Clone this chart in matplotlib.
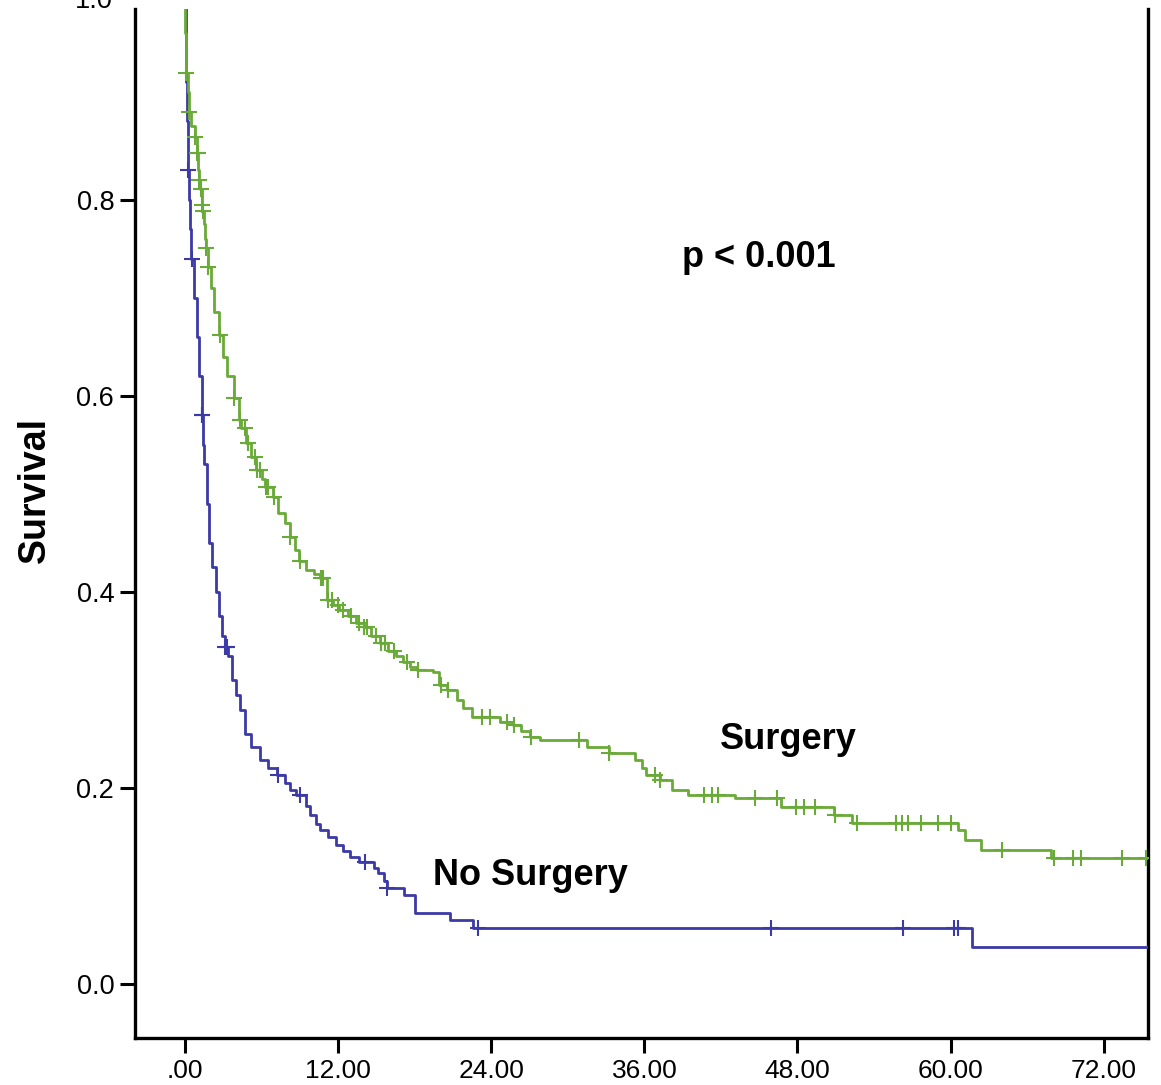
import numpy as np
import matplotlib
matplotlib.use("Agg")
import matplotlib.pyplot as plt

plt.rcParams['font.family'] = ['Liberation Sans', 'DejaVu Sans']

# ---- data ----
# No Surgery: event times (months) and survival after each step
ns_time = [0.0, 0.05, 0.1, 0.15, 0.2, 0.3, 0.4, 0.5, 0.7, 0.9, 1.1, 1.3, 1.4, 1.5, 1.7,
           1.9, 2.1, 2.4, 2.7, 2.9, 3.1, 3.4, 3.7, 4.0, 4.3, 4.7, 5.2, 5.9, 6.5, 7.2,
           7.8, 8.2, 8.7, 9.5, 9.8, 10.3, 10.6, 11.2, 11.8, 12.4, 12.9, 13.6, 14.8,
           15.1, 15.6, 15.8, 17.2, 18.0, 20.8, 22.6, 61.7]
ns_surv = [1.0, 0.96, 0.92, 0.88, 0.83, 0.80, 0.77, 0.74, 0.70, 0.66, 0.62, 0.58, 0.55,
           0.53, 0.49, 0.45, 0.425, 0.40, 0.375, 0.355, 0.344, 0.335, 0.31, 0.295, 0.28,
           0.255, 0.242, 0.229, 0.22, 0.213, 0.205, 0.198, 0.193, 0.182, 0.172, 0.163,
           0.157, 0.150, 0.142, 0.136, 0.130, 0.124, 0.118, 0.113, 0.105, 0.098, 0.091,
           0.073, 0.065, 0.057, 0.038]
ns_censor = [0.22, 0.55, 1.32, 1.36, 3.15, 3.3, 7.3, 9.0, 14.1, 15.85, 23.0, 45.9,
             56.3, 60.3, 60.6]

# Surgery
s_time = [0.0, 0.02, 0.05, 0.08, 0.2, 0.3, 0.5, 0.8, 0.95, 1.05, 1.1, 1.2, 1.3, 1.35,
          1.45, 1.6, 1.65, 1.8, 2.0, 2.3, 2.7, 3.0, 3.3, 3.8, 4.2, 4.4, 4.8, 5.2, 5.6,
          6.0, 6.3, 6.9, 7.3, 7.8, 8.2, 8.6, 8.9, 9.5, 10.1, 10.6, 11.1, 11.6, 12.1,
          12.8, 13.4, 14.0, 14.6, 15.3, 15.9, 16.5, 17.1, 17.6, 18.2, 19.4, 19.9, 20.5,
          21.3, 21.8, 22.5, 24.7, 25.7, 26.3, 27.0, 27.8, 31.5, 33.2, 35.3, 35.8, 36.1,
          37.2, 38.2, 39.4, 43.1, 46.7, 50.9, 52.3, 60.6, 61.1, 62.4, 67.9]
s_surv = [1.0, 0.97, 0.94, 0.929, 0.91, 0.889, 0.875, 0.864, 0.848, 0.83, 0.82, 0.811,
          0.795, 0.788, 0.775, 0.76, 0.751, 0.731, 0.71, 0.685, 0.662, 0.64, 0.62, 0.598,
          0.575, 0.567, 0.552, 0.538, 0.524, 0.515, 0.507, 0.497, 0.48, 0.47, 0.456,
          0.443, 0.431, 0.422, 0.418, 0.414, 0.392, 0.387, 0.382, 0.375, 0.368, 0.364,
          0.355, 0.348, 0.34, 0.335, 0.328, 0.323, 0.320, 0.318, 0.305, 0.300, 0.290,
          0.282, 0.272, 0.267, 0.264, 0.258, 0.252, 0.249, 0.242, 0.236, 0.229, 0.22,
          0.213, 0.208, 0.198, 0.193, 0.190, 0.181, 0.172, 0.164, 0.157, 0.147, 0.137,
          0.129]
s_censor = [0.1, 0.32, 0.82, 0.97, 1.02, 1.12, 1.22, 1.33, 1.38, 1.66, 1.82, 2.75, 3.85,
            4.3, 4.7, 4.9, 5.5, 5.65, 5.9, 6.35, 6.5, 7.0, 8.25, 9.0, 10.65, 10.8, 11.2,
            11.5, 12.0, 12.4, 13.0, 13.6, 14.05, 14.3, 15.0, 15.35, 15.7, 16.4, 17.4,
            18.25, 20.1, 20.6, 23.3, 23.9, 25.2, 25.8, 27.1, 30.9, 33.25, 36.8, 37.25,
            40.7, 41.3, 41.8, 44.7, 46.4, 47.9, 48.5, 49.4, 50.95, 52.7, 55.7, 56.2,
            56.7, 57.7, 59.0, 60.0, 64.0, 68.1, 69.6, 70.2, 73.4, 75.3]

x_ticks = [0, 12, 24, 36, 48, 60, 72]
x_ticklabels = ['.00', '12.00', '24.00', '36.00', '48.00', '60.00', '72.00']
y_ticks = [0.0, 0.2, 0.4, 0.6, 0.8]
y_ticklabels = ['0.0', '0.2', '0.4', '0.6', '0.8']

END_T = 75.5
BLUE = '#3b3aa6'
GREEN = '#6aaa38'

W, H = 1161, 1085
fig = plt.figure(figsize=(W / 100, H / 100), dpi=100)
ax = fig.add_axes([135 / W, 1 - 1038 / H, (1148 - 135) / W, (1038 - 9) / H])


def step_at(times, surv, t):
    idx = np.searchsorted(times, t, side='right') - 1
    return np.asarray(surv)[idx]


for times, surv, cens, col in [(ns_time, ns_surv, ns_censor, BLUE),
                               (s_time, s_surv, s_censor, GREEN)]:
    tt = list(times) + [END_T]
    ss = list(surv) + [surv[-1]]
    ax.step(tt, ss, where='post', color=col, lw=2.0, zorder=3)
    cy = step_at(times, surv, cens)
    ax.plot(cens, cy, ls='none', marker='+', ms=11, mew=1.5, color=col, zorder=4)

ax.set_xlim(-3.92, 75.47)
ax.set_ylim(-0.055, 0.9945)
ax.set_xticks(x_ticks)
ax.set_xticklabels(x_ticklabels)
ax.set_yticks(y_ticks)
ax.set_yticklabels(y_ticklabels)
ax.tick_params(axis='x', direction='out', length=11, width=2.2, labelsize=19, pad=4)
ax.tick_params(axis='y', direction='out', length=11, width=2.2, labelsize=19.5, pad=4)
for side in ['left', 'bottom', 'right']:
    ax.spines[side].set_linewidth(2.4)
    ax.spines[side].set_color('black')
ax.spines['top'].set_visible(False)

# partially visible "1.0" label at the very top
fig.text(113 / W, 1 - 1 / H, '1.0', ha='right', va='center', fontsize=19.5)

fig.text(35 / W, 1 - 490 / H, 'Survival', rotation=90, ha='center', va='center',
         fontsize=27, fontweight='bold')

ax.text(45.0, 0.741, 'p < 0.001', ha='center', va='center', fontsize=26, fontweight='bold')
ax.text(47.3, 0.249, 'Surgery', ha='center', va='center', fontsize=26, fontweight='bold')
ax.text(27.1, 0.111, 'No Surgery', ha='center', va='center', fontsize=26, fontweight='bold')

fig.savefig('out.png', dpi=100)
